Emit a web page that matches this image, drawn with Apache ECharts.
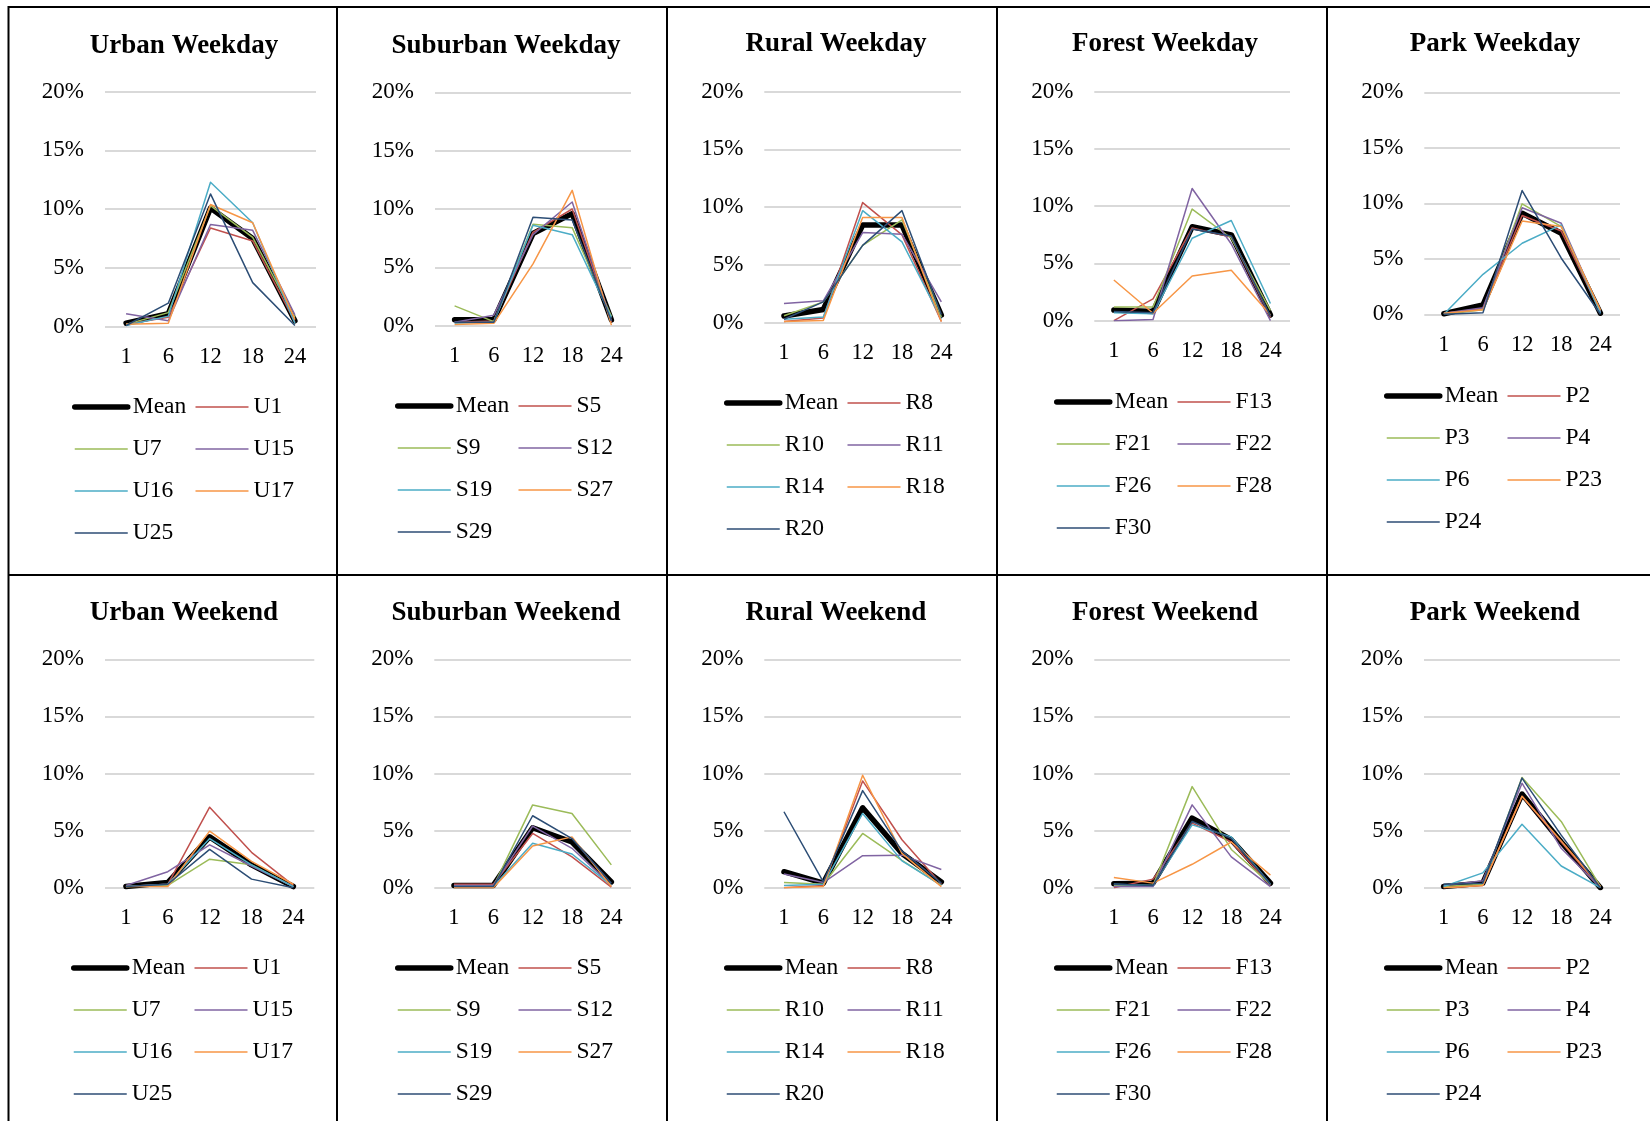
<!DOCTYPE html>
<html>
<head>
<meta charset="utf-8">
<script src="https://cdn.jsdelivr.net/npm/echarts@6/dist/echarts.min.js"></script>
<style>
  html, body { margin: 0; padding: 0; background: #ffffff; }
  #chart { width: 1650px; height: 1121px; }
</style>
</head>
<body>
<div id="chart"></div>
<script>
// Hour of day on the category axis
const hours = ['1', '6', '12', '18', '24'];

// Site codes per land-use class (the first line of every panel is the class mean)
const urbanSites = ['U1', 'U7', 'U15', 'U16', 'U17', 'U25'];
const suburbanSites = ['S5', 'S9', 'S12', 'S19', 'S27', 'S29'];
const ruralSites = ['R8', 'R10', 'R11', 'R14', 'R18', 'R20'];
const forestSites = ['F13', 'F21', 'F22', 'F26', 'F28', 'F30'];
const parkSites = ['P2', 'P3', 'P4', 'P6', 'P23', 'P24'];

// Share of daily total (%) at each hour; rows: Mean, then the sites in order
const urbanWeekday = [
  [0.3, 1.1, 10.1, 7.5, 0.5],
  [0.2, 0.8, 8.4, 7.3, 0.4],
  [0.2, 1.2, 10.3, 7.6, 0.8],
  [1.1, 0.5, 8.7, 8.2, 1.0],
  [0.1, 0.9, 12.3, 8.85, 0.3],
  [0.2, 0.3, 10.4, 8.85, 0.6],
  [0.1, 2.0, 11.3, 3.75, 0.1]
];
const suburbanWeekday = [
  [0.5, 0.5, 7.9, 9.6, 0.5],
  [0.3, 0.4, 8.0, 10.0, 0.3],
  [1.7, 0.35, 8.7, 8.4, 0.8],
  [0.3, 0.9, 7.8, 10.6, 0.4],
  [0.2, 0.3, 8.6, 7.8, 0.7],
  [0.1, 0.2, 5.3, 11.6, 0.05],
  [0.3, 0.3, 9.3, 9.05, 0.4]
];
const ruralWeekday = [
  [0.58, 1.15, 8.45, 8.45, 0.66],
  [0.1, 0.4, 10.4, 7.6, 0.1],
  [0.6, 1.8, 6.7, 8.9, 0.5],
  [1.67, 1.9, 7.8, 7.65, 1.8],
  [0.3, 0.5, 9.7, 7.0, 0.3],
  [0.1, 0.2, 9.1, 9.1, 0.1],
  [0.3, 1.8, 6.7, 9.7, 0.7]
];
const forestWeekday = [
  [0.93, 0.8, 8.2, 7.5, 0.5],
  [0.0, 1.9, 8.1, 7.3, 0.3],
  [1.2, 1.2, 9.75, 7.2, 0.9],
  [0.0, 0.1, 11.55, 6.7, 0.0],
  [0.7, 0.6, 7.2, 8.75, 1.5],
  [3.55, 0.65, 3.9, 4.4, 0.5],
  [0.8, 0.7, 8.0, 7.4, 0.4]
];
const parkWeekday = [
  [0.05, 0.85, 9.1, 7.3, 0.1],
  [0.1, 0.5, 8.9, 7.5, 0.2],
  [0.0, 0.4, 9.95, 7.9, 0.3],
  [0.1, 0.6, 9.6, 8.2, 0.2],
  [0.0, 3.6, 6.4, 8.05, 0.1],
  [0.1, 0.4, 8.4, 7.9, 0.4],
  [0.0, 0.15, 11.15, 5.05, 0.0]
];
const urbanWeekend = [
  [0.1, 0.45, 4.45, 2.0, 0.1],
  [0.1, 0.3, 7.05, 3.1, 0.2],
  [0.1, 0.2, 2.5, 2.0, 0.1],
  [0.2, 1.4, 3.75, 1.9, 0.1],
  [0.1, 0.3, 4.3, 2.0, 0.1],
  [0.1, 0.1, 4.95, 2.3, 0.3],
  [0.1, 0.3, 3.35, 0.75, 0.0]
];
const suburbanWeekend = [
  [0.2, 0.2, 5.25, 4.0, 0.5],
  [0.3, 0.3, 4.75, 2.7, 0.05],
  [0.1, 0.1, 7.25, 6.5, 2.0],
  [0.2, 0.2, 5.4, 3.45, 0.2],
  [0.1, 0.1, 3.9, 2.95, 0.2],
  [0.0, 0.0, 3.65, 4.45, 0.1],
  [0.1, 0.1, 6.3, 4.3, 0.4]
];
const ruralWeekend = [
  [1.4, 0.4, 7.0, 3.0, 0.5],
  [0.0, 0.2, 9.35, 4.2, 0.3],
  [0.45, 0.3, 4.75, 2.4, 0.2],
  [1.2, 0.45, 2.8, 2.85, 1.6],
  [0.2, 0.3, 6.5, 2.35, 0.2],
  [0.0, 0.1, 9.85, 3.0, 0.1],
  [6.65, 0.5, 8.5, 3.2, 0.4]
];
const forestWeekend = [
  [0.35, 0.4, 6.1, 4.2, 0.4],
  [0.0, 0.75, 5.65, 4.0, 0.2],
  [0.2, 0.2, 8.85, 3.35, 0.3],
  [0.1, 0.1, 7.25, 2.7, 0.1],
  [0.3, 0.2, 5.5, 4.45, 0.3],
  [0.9, 0.4, 2.05, 4.0, 1.1],
  [0.3, 0.2, 5.8, 4.3, 0.3]
];
const parkWeekend = [
  [0.1, 0.4, 8.2, 4.0, 0.0],
  [0.0, 0.2, 8.0, 4.0, 0.0],
  [0.1, 0.3, 9.65, 5.8, 0.1],
  [0.2, 0.6, 9.15, 3.45, 0.0],
  [0.1, 1.3, 5.55, 1.9, 0.0],
  [0.0, 0.2, 8.0, 4.1, 0.1],
  [0.3, 0.4, 9.6, 4.6, 0.0]
];

// Line colours: Mean, then the six sites
const lineColors = ['#000000', '#C0504D', '#9BBB59', '#8064A2', '#4BACC6', '#F79646', '#2C4D75'];

const SERIF = '"Liberation Serif", "Times New Roman", serif';

// Panel layout: plot box [left, top, right, bottom], title anchor, legend anchor
const panels = [
  { title: 'Urban Weekday',    sites: urbanSites,    values: urbanWeekday,    box: [105, 91.7, 316, 326.7],    titleAt: [184, 46],    legendAt: [72, 390] },
  { title: 'Suburban Weekday', sites: suburbanSites, values: suburbanWeekday, box: [435, 92.3, 631, 325.7],    titleAt: [506, 46],    legendAt: [395, 389] },
  { title: 'Rural Weekday',    sites: ruralSites,    values: ruralWeekday,    box: [764.3, 91.7, 961, 322.7],  titleAt: [836, 44],    legendAt: [724, 386] },
  { title: 'Forest Weekday',   sites: forestSites,   values: forestWeekday,   box: [1094.3, 91.7, 1290, 320.7], titleAt: [1165, 44], legendAt: [1054, 385] },
  { title: 'Park Weekday',     sites: parkSites,     values: parkWeekday,     box: [1424.3, 92.3, 1620, 314.3], titleAt: [1495, 44], legendAt: [1384, 379] },
  { title: 'Urban Weekend',    sites: urbanSites,    values: urbanWeekend,    box: [105, 659.3, 314.3, 887.7], titleAt: [184, 613],   legendAt: [71, 951] },
  { title: 'Suburban Weekend', sites: suburbanSites, values: suburbanWeekend, box: [434.3, 659.3, 631, 887.7], titleAt: [506, 613],  legendAt: [395, 951] },
  { title: 'Rural Weekend',    sites: ruralSites,    values: ruralWeekend,    box: [764.3, 659.3, 961, 887.7], titleAt: [836, 613],  legendAt: [724, 951] },
  { title: 'Forest Weekend',   sites: forestSites,   values: forestWeekend,   box: [1094.3, 659.3, 1290, 887.7], titleAt: [1165, 613], legendAt: [1054, 951] },
  { title: 'Park Weekend',     sites: parkSites,     values: parkWeekend,     box: [1424, 659.3, 1620, 887.7], titleAt: [1495, 613], legendAt: [1384, 951] }
];

const titles = [], grids = [], xAxes = [], yAxes = [], legends = [], series = [];

panels.forEach(function (p, i) {
  const names = ['Mean'].concat(p.sites);
  const b = p.box;

  titles.push({
    text: p.title,
    left: p.titleAt[0],
    top: p.titleAt[1],
    textAlign: 'center',
    textVerticalAlign: 'middle',
    padding: 0,
    textStyle: { fontFamily: SERIF, fontSize: 27, fontWeight: 'bold', color: '#000' }
  });

  grids.push({ left: b[0], top: b[1], width: b[2] - b[0], height: b[3] - b[1], containLabel: false });

  xAxes.push({
    type: 'category',
    gridIndex: i,
    data: hours,
    boundaryGap: true,
    axisLine: { show: false },
    axisTick: { show: false },
    axisLabel: { margin: 19, fontFamily: SERIF, fontSize: 22.5, color: '#000' },
    splitLine: { show: false }
  });

  yAxes.push({
    type: 'value',
    gridIndex: i,
    min: 0,
    max: 20,
    interval: 5,
    axisLine: { show: false },
    axisTick: { show: false },
    axisLabel: { margin: 21, fontFamily: SERIF, fontSize: 23, color: '#000', formatter: '{value}%' },
    splitLine: { show: true, lineStyle: { color: '#D9D9D9', width: 2 } }
  });

  legends.push({
    left: p.legendAt[0],
    top: p.legendAt[1],
    width: 250,
    orient: 'horizontal',
    padding: 0,
    itemGap: 8,
    itemWidth: 53,
    itemHeight: 14,
    selectedMode: false,
    itemStyle: { opacity: 0 },
    textStyle: { fontFamily: SERIF, fontSize: 23.5, color: '#000', lineHeight: 34, width: 54 },
    data: names.map(function (n, k) {
      return k === 0
        ? { name: n, lineStyle: { width: 5.5, cap: 'round', color: lineColors[0] }, itemStyle: { opacity: 0 } }
        : { name: n, lineStyle: { width: 1.5, color: lineColors[k] }, itemStyle: { opacity: 0 } };
    })
  });

  names.forEach(function (n, k) {
    series.push({
      type: 'line',
      name: n,
      xAxisIndex: i,
      yAxisIndex: i,
      data: p.values[k],
      symbol: 'none',
      showSymbol: false,
      smooth: false,
      silent: true,
      z: 2,
      color: lineColors[k],
      lineStyle: k === 0
        ? { width: 5.5, color: lineColors[0], cap: 'round', join: 'round' }
        : { width: 1.5, color: lineColors[k], join: 'round' }
    });
  });
});

// Table rules framing the ten panels
const rule = { stroke: '#000', lineWidth: 2 };
const frame = [
  { type: 'line', shape: { x1: 8, y1: 7, x2: 1650, y2: 7 }, style: rule, silent: true },
  { type: 'line', shape: { x1: 8, y1: 575, x2: 1650, y2: 575 }, style: rule, silent: true }
];
[8.5, 337, 667, 997, 1327].forEach(function (x) {
  frame.push({ type: 'line', shape: { x1: x, y1: 6, x2: x, y2: 1121 }, style: rule, silent: true });
});

const chart = echarts.init(document.getElementById('chart'), null, { renderer: 'canvas' });
chart.setOption({
  animation: false,
  backgroundColor: '#ffffff',
  title: titles,
  grid: grids,
  xAxis: xAxes,
  yAxis: yAxes,
  legend: legends,
  series: series,
  graphic: frame
});
</script>
</body>
</html>
